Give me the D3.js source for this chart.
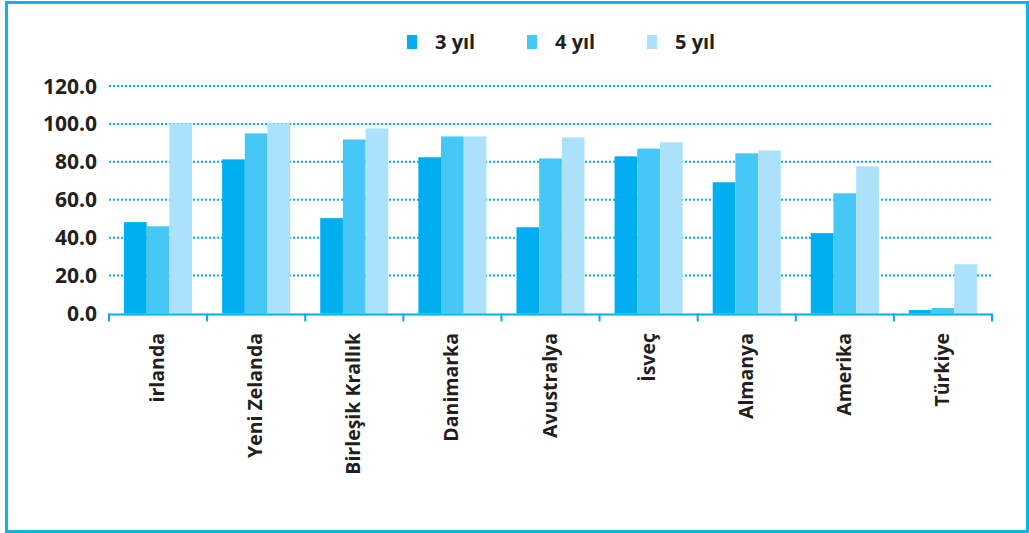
<!DOCTYPE html>
<html>
<head>
<meta charset="utf-8">
<script src="https://cdn.jsdelivr.net/npm/d3@7"></script>
<style>
  html, body { margin: 0; padding: 0; background: #fff; }
  svg { display: block; }
  text { font-family: "Open Sans", "DejaVu Sans", sans-serif; font-weight: 700; fill: #231f20; }
</style>
</head>
<body>
<svg id="chart" width="1029" height="533"></svg>
<script>
const categories = ["irlanda", "Yeni Zelanda", "Birleşik Krallık", "Danimarka", "Avustralya", "İsveç", "Almanya", "Amerika", "Türkiye"];
const seriesNames = ["3 yıl", "4 yıl", "5 yıl"];
const values3 = [48.2, 81.3, 50.3, 82.4, 45.5, 82.9, 69.2, 42.4, 1.8];
const values4 = [46.0, 95.0, 91.8, 93.4, 81.8, 87.0, 84.5, 63.4, 2.9];
const values5 = [100.3, 100.3, 97.6, 93.4, 92.9, 90.3, 86.0, 77.6, 26.0];
const yTicks = [0, 20, 40, 60, 80, 100, 120];
const colors = ["#00aeef", "#45c8f5", "#abe1fa"];

const seriesValues = [values3, values4, values5];
const svg = d3.select("#chart");

// frame
svg.append("rect").attr("x", 6.5).attr("y", 2.5).attr("width", 1021).attr("height", 529)
  .attr("fill", "none").attr("stroke", "#0db4ea").attr("stroke-width", 3);

const mLeft = 109, mRight = 992, mTop = 86, mBottom = 313.5;
const x0 = d3.scaleBand().domain(categories).range([mLeft, mRight]).paddingInner(0.306).paddingOuter(0.153);
const x1 = d3.scaleBand().domain(seriesNames).range([0, x0.bandwidth()]);
const y = d3.scaleLinear().domain([0, 120]).range([mBottom, mTop]);

// gridlines
svg.append("g").selectAll("line").data(yTicks.filter(d => d > 0)).join("line")
  .attr("x1", mLeft).attr("x2", mRight)
  .attr("y1", d => y(d)).attr("y2", d => y(d))
  .attr("stroke", "#00aeef").attr("stroke-width", 2).attr("stroke-dasharray", "2,2");

// y labels
svg.append("g").selectAll("text").data(yTicks).join("text")
  .attr("x", 97).attr("y", d => y(d)).attr("dy", "0.36em")
  .attr("text-anchor", "end").attr("font-size", 21)
  .text(d => d3.format(".1f")(d));

// bars
const groups = svg.append("g").selectAll("g").data(categories).join("g")
  .attr("transform", d => `translate(${x0(d)},0)`);
groups.selectAll("rect").data((c, i) => seriesNames.map((s, j) => ({s, j, v: seriesValues[j][i]})))
  .join("rect")
  .attr("x", d => x1(d.s)).attr("width", x1.bandwidth())
  .attr("y", d => y(d.v)).attr("height", d => y(0) - y(d.v))
  .attr("fill", d => colors[d.j]);

// x axis line & ticks
const step = (mRight - mLeft) / categories.length;
svg.append("line").attr("x1", mLeft).attr("x2", mRight).attr("y1", mBottom + 1).attr("y2", mBottom + 1)
  .attr("stroke", "#00aeef").attr("stroke-width", 2);
svg.append("g").selectAll("line").data(d3.range(categories.length + 1)).join("line")
  .attr("x1", i => mLeft + i * step).attr("x2", i => mLeft + i * step)
  .attr("y1", mBottom).attr("y2", mBottom + 8)
  .attr("stroke", "#00aeef").attr("stroke-width", 2);

// category labels
svg.append("g").selectAll("text").data(categories).join("text")
  .attr("transform", d => `translate(${x0(d) + x0.bandwidth() / 2 + 6},333) rotate(-90)`)
  .attr("text-anchor", "end").attr("font-size", 19.5)
  .text(d => d);

// legend
const legend = svg.append("g").selectAll("g").data(seriesNames).join("g")
  .attr("transform", (d, i) => `translate(${407 + i * 120},35)`);
legend.append("rect").attr("width", 10).attr("height", 14).attr("fill", (d, i) => colors[i]);
legend.append("text").attr("x", 28).attr("y", 13.5).attr("font-size", 20).text(d => d);
</script>
</body>
</html>
